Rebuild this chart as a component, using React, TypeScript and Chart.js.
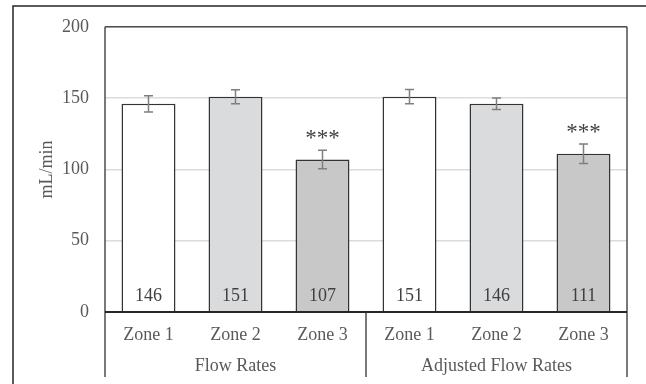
import React, { useEffect, useRef } from "react";
import { Chart, registerables } from "chart.js";

Chart.register(...registerables);

const categories = ["Zone 1", "Zone 2", "Zone 3", "Zone 1", "Zone 2", "Zone 3"];
const groups = ["Flow Rates", "Adjusted Flow Rates"];
const groupSizes = [3, 3];
const values = [146, 151, 107, 151, 146, 111];
const errors = [5.7, 4.9, 6.5, 5.0, 4.0, 6.8];
const significance = ["", "", "***", "", "", "***"];
const yTitle = "mL/min";

const FONT = "'Liberation Serif', 'Times New Roman', serif";
const barFill = ["#ffffff", "#dadbdc", "#c8c8c8", "#ffffff", "#dadbdc", "#c8c8c8"];

const overlay = {
  id: "overlay",
  afterDatasetsDraw(chart: any) {
    const { ctx, chartArea, scales } = chart;
    const x = scales.x;
    const y = scales.y;
    const meta = chart.getDatasetMeta(0);
    ctx.save();

    // error bars
    ctx.strokeStyle = "#7f7f7f";
    ctx.lineWidth = 1.5;
    values.forEach((v, i) => {
      const cx = meta.data[i].x;
      const top = y.getPixelForValue(v + errors[i]);
      const bot = y.getPixelForValue(v - errors[i]);
      ctx.beginPath();
      ctx.moveTo(cx, top);
      ctx.lineTo(cx, bot);
      ctx.moveTo(cx - 4.5, top);
      ctx.lineTo(cx + 4.5, top);
      ctx.moveTo(cx - 4.5, bot);
      ctx.lineTo(cx + 4.5, bot);
      ctx.stroke();
    });

    // significance stars
    ctx.fillStyle = "#404040";
    ctx.font = `23px ${FONT}`;
    ctx.textAlign = "center";
    ctx.textBaseline = "alphabetic";
    significance.forEach((s, i) => {
      if (!s) return;
      const cx = meta.data[i].x;
      const top = y.getPixelForValue(values[i] + errors[i]);
      ctx.fillText(s, cx, top - 5);
    });

    // value labels
    ctx.fillStyle = "#404040";
    ctx.font = `18px ${FONT}`;
    ctx.textBaseline = "alphabetic";
    values.forEach((v, i) => {
      const cx = meta.data[i].x;
      ctx.fillText(String(Math.round(v)), cx, y.getPixelForValue(0) - 11);
    });

    // plot frame
    const L = chartArea.left, R = chartArea.right, T = chartArea.top, B = chartArea.bottom;
    const bottomEdge = B + 65;
    ctx.strokeStyle = "#4d4d4d";
    ctx.lineWidth = 1.5;
    ctx.beginPath();
    ctx.moveTo(L, T);
    ctx.lineTo(R, T);
    ctx.moveTo(L, T);
    ctx.lineTo(L, bottomEdge);
    ctx.moveTo(R, T);
    ctx.lineTo(R, bottomEdge);
    ctx.stroke();

    // group separators and labels
    let start = 0;
    ctx.fillStyle = "#595959";
    ctx.font = `18px ${FONT}`;
    ctx.textBaseline = "alphabetic";
    groups.forEach((g, gi) => {
      const end = start + groupSizes[gi] - 1;
      const half = (x.getPixelForValue(1) - x.getPixelForValue(0)) / 2;
      const gl = x.getPixelForValue(start) - half;
      const gr = x.getPixelForValue(end) + half;
      if (gi > 0) {
        ctx.beginPath();
        ctx.moveTo(gl, B);
        ctx.lineTo(gl, bottomEdge);
        ctx.stroke();
      }
      ctx.fillText(g, (gl + gr) / 2, B + 59);
      start = end + 1;
    });

    // zero axis line
    ctx.strokeStyle = "#262626";
    ctx.lineWidth = 2.2;
    ctx.beginPath();
    ctx.moveTo(L, B);
    ctx.lineTo(R, B);
    ctx.stroke();

    // y title
    ctx.save();
    ctx.translate(47, (T + B) / 2);
    ctx.rotate(-Math.PI / 2);
    ctx.fillStyle = "#595959";
    ctx.font = `18px ${FONT}`;
    ctx.textAlign = "center";
    ctx.textBaseline = "middle";
    ctx.fillText(yTitle, 0, 0);
    ctx.restore();

    // outer frame (partial)
    ctx.strokeStyle = "#262626";
    ctx.lineWidth = 1.5;
    ctx.beginPath();
    ctx.moveTo(13, chart.height + 2);
    ctx.lineTo(13, 6);
    ctx.lineTo(chart.width + 2, 6);
    ctx.stroke();

    ctx.restore();
  },
};

export default function App() {
  const ref = useRef<HTMLCanvasElement | null>(null);
  useEffect(() => {
    document.body.style.margin = "0";
    const canvas = ref.current;
    if (!canvas) return;
    const chart = new Chart(canvas, {
      type: "bar",
      data: {
        labels: categories,
        datasets: [
          {
            data: values,
            backgroundColor: barFill,
            borderColor: "#333333",
            borderWidth: 1.5,
            barPercentage: 0.62,
            categoryPercentage: 1,
          },
        ],
      },
      options: {
        animation: false,
        responsive: false,
        maintainAspectRatio: false,
        layout: { padding: { left: 0, top: 26, right: 19, bottom: 0 } },
        plugins: {
          legend: { display: false },
          tooltip: { enabled: false },
        },
        scales: {
          x: {
            grid: { display: false, drawTicks: false },
            border: { display: false },
            ticks: {
              color: "#595959",
              font: { family: FONT, size: 18 },
              padding: 12,
              maxRotation: 0,
              autoSkip: false,
            },
            afterFit(scale: any) {
              scale.height = 72;
            },
          },
          y: {
            min: 0,
            max: 200,
            grid: { color: "#dcdcdc", lineWidth: 1.5, drawTicks: false },
            border: { display: false },
            ticks: {
              stepSize: 50,
              color: "#595959",
              font: { family: FONT, size: 18 },
              padding: 16,
            },
            afterFit(scale: any) {
              scale.width = 105;
            },
          },
        },
      },
      plugins: [overlay],
    });
    return () => chart.destroy();
  }, []);
  return (
    <div style={{ width: 646, height: 384 }}>
      <canvas ref={ref} width={646} height={384} />
    </div>
  );
}
